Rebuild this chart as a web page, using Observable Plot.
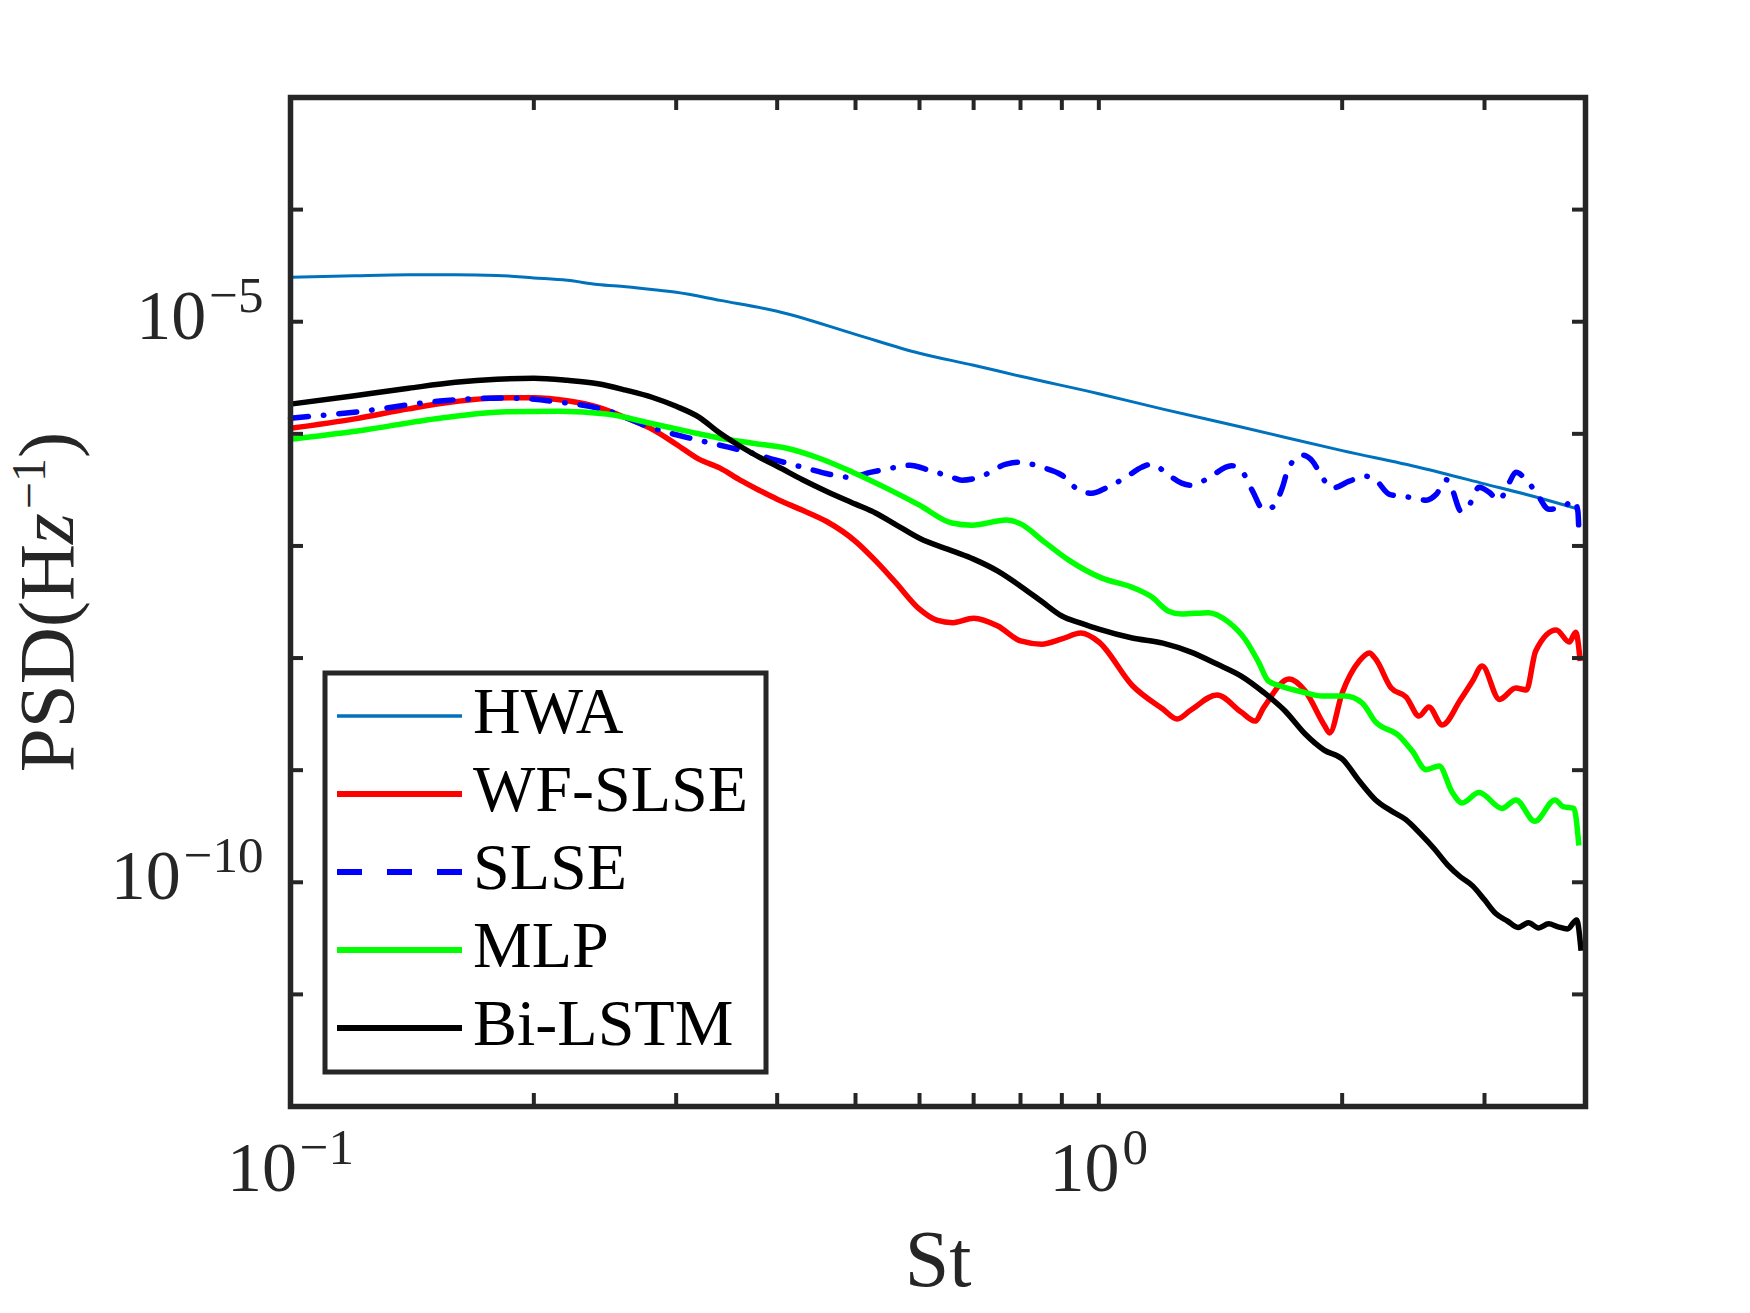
<!DOCTYPE html>
<html><head><meta charset="utf-8">
<script src="https://cdn.jsdelivr.net/npm/d3@7"></script>
<script src="https://cdn.jsdelivr.net/npm/@observablehq/plot@0.6"></script>
<style>
html,body{margin:0;padding:0;background:#fff;}
#wrap{width:1750px;height:1313px;}
</style></head><body><div id="wrap"></div>
<script>
// ---------- data ----------
const seriesNames = ["HWA", "WF-SLSE", "SLSE", "MLP", "Bi-LSTM"];

const hwaSt = [0.10,0.12,0.14,0.16,0.18,0.20,0.22,0.24,0.26,0.28,0.30,0.34,0.40,0.50,0.60,0.70,0.80,1.0,1.2,1.5,2.0,2.5,3.0,3.5,3.92];
const hwaPsd = [2.49e-5,2.57e-5,2.62e-5,2.62e-5,2.59e-5,2.46e-5,2.34e-5,2.15e-5,2.05e-5,1.94e-5,1.83e-5,1.55e-5,1.24e-5,7.72e-6,5.23e-6,4.09e-6,3.26e-6,2.28e-6,1.66e-6,1.15e-6,7.08e-7,4.99e-7,3.58e-7,2.69e-7,2.13e-7];

const wfSt = [0.10,0.12,0.14,0.16,0.18,0.20,0.22,0.24,0.26,0.28,0.30,0.32,0.34,0.36,0.38,0.40,0.43,0.46,0.50,0.53,0.56,0.60,0.63,0.66,0.70,0.75,0.80,0.85,0.90,0.95,1.0,1.1,1.2,1.25,1.3,1.4,1.5,1.56,1.6,1.72,1.8,1.9,1.93,2.0,2.1,2.16,2.2,2.3,2.4,2.49,2.56,2.66,2.8,2.9,2.98,3.13,3.28,3.38,3.47,3.68,3.82,3.89,3.94];
const wfPsd = [1.12e-6,1.36e-6,1.67e-6,1.94e-6,2.09e-6,2.10e-6,1.97e-6,1.73e-6,1.39e-6,1.10e-6,8.08e-7,5.94e-7,4.94e-7,3.86e-7,3.14e-7,2.61e-7,2.08e-7,1.66e-7,1.10e-7,7.32e-8,4.76e-8,2.73e-8,2.18e-8,2.07e-8,2.27e-8,1.93e-8,1.42e-8,1.33e-8,1.48e-8,1.67e-8,1.39e-8,5.69e-9,3.51e-9,2.86e-9,3.44e-9,4.68e-9,3.30e-9,2.74e-9,3.63e-9,6.50e-9,5.08e-9,2.53e-9,2.15e-9,4.88e-9,9.40e-9,1.11e-8,9.80e-9,5.40e-9,4.49e-9,3.04e-9,3.66e-9,2.53e-9,4.22e-9,6.24e-9,8.48e-9,4.28e-9,5.40e-9,5.19e-9,1.15e-8,1.78e-8,1.39e-8,1.70e-8,9.40e-9];

const slseSt = [0.100,0.121,0.153,0.185,0.215,0.246,0.278,0.312,0.340,0.373,0.399,0.430,0.464,0.491,0.523,0.562,0.583,0.617,0.658,0.677,0.711,0.768,0.796,0.850,0.900,0.945,0.980,1.020,1.080,1.130,1.163,1.220,1.266,1.302,1.356,1.459,1.506,1.549,1.598,1.640,1.687,1.716,1.786,1.838,1.891,1.945,2.041,2.136,2.198,2.288,2.421,2.541,2.615,2.690,2.735,2.806,2.871,2.954,3.039,3.126,3.216,3.281,3.376,3.473,3.604,3.751,3.870,3.914,3.925];
const slsePsd = [1.38e-6,1.57e-6,1.96e-6,2.09e-6,1.92e-6,1.62e-6,1.15e-6,9.14e-7,7.91e-7,6.72e-7,5.82e-7,5.04e-7,4.36e-7,4.10e-7,4.55e-7,5.04e-7,5.25e-7,4.74e-7,4.10e-7,3.86e-7,4.10e-7,5.36e-7,5.58e-7,5.04e-7,4.28e-7,3.14e-7,2.95e-7,3.28e-7,4.10e-7,5.04e-7,5.36e-7,4.28e-7,3.63e-7,3.48e-7,3.90e-7,5.20e-7,4.55e-7,3.10e-7,2.13e-7,2.22e-7,3.34e-7,4.94e-7,6.45e-7,5.70e-7,4.05e-7,3.28e-7,3.78e-7,4.19e-7,3.90e-7,2.89e-7,2.72e-7,2.56e-7,2.89e-7,3.90e-7,3.21e-7,2.04e-7,2.31e-7,3.34e-7,3.02e-7,2.56e-7,3.63e-7,4.55e-7,3.90e-7,3.02e-7,2.13e-7,2.22e-7,2.56e-7,2.04e-7,1.35e-7];

const mlpSt = [0.100,0.121,0.153,0.185,0.215,0.246,0.278,0.312,0.340,0.373,0.411,0.451,0.496,0.546,0.600,0.658,0.697,0.768,0.796,0.860,0.918,1.009,1.098,1.163,1.220,1.266,1.367,1.447,1.519,1.576,1.621,1.687,1.786,1.890,2.018,2.118,2.198,2.353,2.442,2.541,2.636,2.735,2.814,2.954,3.153,3.281,3.463,3.667,3.751,3.870,3.925];
const mlpPsd = [8.95e-7,1.06e-6,1.38e-6,1.57e-6,1.59e-6,1.50e-6,1.25e-6,1.04e-6,9.14e-7,8.25e-7,7.44e-7,6.06e-7,4.55e-7,3.28e-7,2.31e-7,1.60e-7,1.53e-7,1.70e-7,1.60e-7,1.06e-7,7.47e-8,5.16e-8,4.29e-8,3.50e-8,2.62e-8,2.47e-8,2.54e-8,2.09e-8,1.45e-8,9.21e-9,6.24e-9,5.57e-9,4.98e-9,4.59e-9,4.59e-9,3.97e-9,2.71e-9,2.02e-9,1.48e-9,1.01e-9,1.09e-9,6.39e-10,5.10e-10,6.32e-10,4.56e-10,5.43e-10,3.50e-10,5.43e-10,4.73e-10,4.56e-10,2.13e-10];

const lstmSt = [0.10,0.12,0.14,0.16,0.18,0.20,0.22,0.24,0.26,0.28,0.30,0.32,0.34,0.36,0.38,0.40,0.43,0.46,0.50,0.53,0.56,0.60,0.66,0.70,0.75,0.80,0.85,0.90,0.95,1.0,1.1,1.2,1.3,1.4,1.5,1.6,1.7,1.8,1.9,2.0,2.1,2.2,2.3,2.4,2.5,2.6,2.7,2.8,2.9,3.0,3.1,3.2,3.3,3.4,3.5,3.6,3.7,3.8,3.9,3.95];
const lstmPsd = [1.84e-6,2.19e-6,2.55e-6,2.88e-6,3.07e-6,3.13e-6,3.00e-6,2.80e-6,2.45e-6,2.12e-6,1.76e-6,1.41e-6,1.01e-6,7.75e-7,6.19e-7,5.14e-7,3.90e-7,3.08e-7,2.36e-7,1.96e-7,1.56e-7,1.17e-7,8.99e-8,7.63e-8,5.96e-8,4.38e-8,3.19e-8,2.37e-8,2.05e-8,1.81e-8,1.51e-8,1.36e-8,1.13e-8,8.84e-9,6.91e-9,4.93e-9,3.37e-9,2.10e-9,1.51e-9,1.26e-9,8.01e-10,5.43e-10,4.33e-10,3.60e-10,2.70e-10,1.99e-10,1.43e-10,1.12e-10,9.29e-11,6.97e-11,5.23e-11,4.53e-11,3.96e-11,4.35e-11,3.92e-11,4.26e-11,4.00e-11,3.84e-11,4.62e-11,2.45e-11];

const xTicks = [0.1,0.2,0.3,0.4,0.5,0.6,0.7,0.8,0.9,1,2,3,4];
const yTicks = [1e-12,1e-11,1e-10,1e-9,1e-8,1e-7,1e-6,1e-5,1e-4,1e-3];
const xLabelTicks = [0.1, 1];
const xLabelExps = ["\u22121", "0"];
const yLabelTicks = [1e-5, 1e-10];
const yLabelExps = ["\u22125", "\u221210"];

// ---------- styles ----------
const colors = ["#0072BD", "#FF0000", "#0000FF", "#00FF00", "#000000"];
const widths = [3, 5.5, 5.5, 5.5, 5.5];
const AXIS = "#262626";
const FONT = "'Liberation Serif','Times New Roman',serif";

const W = 1750, H = 1313, mL = 290, mR = 165, mT = 97, mB = 207;
const innerW = W - mL - mR, innerH = H - mT - mB, TICK = 13;

const rows = (st, psd) => st.map((s, i) => ({St: s, PSD: psd[i]}));
const series = [rows(hwaSt, hwaPsd), rows(wfSt, wfPsd), rows(slseSt, slsePsd), rows(mlpSt, mlpPsd), rows(lstmSt, lstmPsd)];

const lineMarks = series.map((data, i) => Plot.line(data, {
  x: "St", y: "PSD", stroke: colors[i], strokeWidth: widths[i],
  curve: "monotone-x", strokeLinejoin: "round",
  strokeLinecap: i === 2 ? "round" : "butt",
  strokeDasharray: i === 2 ? "18,15,0.5,15" : null
}));

const chart = Plot.plot({
  width: W, height: H,
  marginLeft: mL, marginRight: mR, marginTop: mT, marginBottom: mB,
  style: {background: "#fff", fontFamily: FONT, overflow: "visible"},
  x: {type: "log", domain: [0.1, 4], axis: null},
  y: {type: "log", domain: [1e-12, 1e-3], axis: null},
  marks: [
    ...lineMarks,
    Plot.ruleX(xTicks, {x: d => d, insetTop: innerH - TICK, stroke: AXIS, strokeWidth: 4}),
    Plot.ruleX(xTicks, {x: d => d, insetBottom: innerH - TICK, stroke: AXIS, strokeWidth: 4}),
    Plot.ruleY(yTicks, {y: d => d, insetRight: innerW - TICK, stroke: AXIS, strokeWidth: 4}),
    Plot.ruleY(yTicks, {y: d => d, insetLeft: innerW - TICK, stroke: AXIS, strokeWidth: 4}),
    Plot.frame({stroke: AXIS, strokeWidth: 5.5}),
    Plot.text(xLabelTicks, {x: d => d, frameAnchor: "bottom", dy: 84, lineAnchor: "bottom", textAnchor: "middle",
      text: (d, i) => "10^" + xLabelExps[i], fontSize: 70, fill: AXIS}),
    Plot.text(yLabelTicks, {y: d => d, frameAnchor: "left", dx: -27, dy: 17, textAnchor: "end", lineAnchor: "bottom",
      text: (d, i) => "10^" + yLabelExps[i], fontSize: 70, fill: AXIS}),
    Plot.text(["St"], {frameAnchor: "bottom", dy: 179, lineAnchor: "bottom", textAnchor: "middle", text: d => d, fontSize: 80, fill: AXIS}),
    Plot.text(["PSD(Hz^-1)"], {frameAnchor: "left", dx: -218, rotate: -90, lineAnchor: "bottom", textAnchor: "middle", text: d => d, fontSize: 79, fill: AXIS})
  ]
});

// superscripts for tick labels and y label
d3.select(chart).selectAll("text").each(function () {
  const t = this.textContent;
  const s = d3.select(this);
  if (t.startsWith("10^")) {
    s.text(null);
    s.append("tspan").text("10");
    s.append("tspan").attr("font-size", 51).attr("dx", 3).attr("dy", -27).text(t.slice(3));
  } else if (t === "PSD(Hz^-1)") {
    s.text(null);
    s.append("tspan").text("PSD(H");
    s.append("tspan").attr("font-style", "italic").text("z");
    s.append("tspan").attr("font-size", 48).attr("dx", 4).attr("dy", -28).text("\u22121");
    s.append("tspan").attr("dy", 28).text(")");
  }
});

// legend (inside the axes, lower left)
const leg = d3.select(chart).append("g").attr("font-family", FONT).attr("text-anchor", "start");
leg.append("rect").attr("x", 325).attr("y", 673).attr("width", 441).attr("height", 399)
  .attr("fill", "#fff").attr("stroke", AXIS).attr("stroke-width", 5);
seriesNames.forEach((name, i) => {
  const y = 716 + 78 * i;
  leg.append("line").attr("x1", 337).attr("x2", 462).attr("y1", y).attr("y2", y)
    .attr("stroke", colors[i]).attr("stroke-width", i === 0 ? 3.3 : 6)
    .attr("stroke-dasharray", i === 2 ? "25,25" : null);
  leg.append("text").attr("x", 473).attr("y", y + 17).attr("font-size", 66)
    .attr("text-anchor", "start").attr("fill", "#000").text(name);
});

document.getElementById("wrap").appendChild(chart);
</script></body></html>
